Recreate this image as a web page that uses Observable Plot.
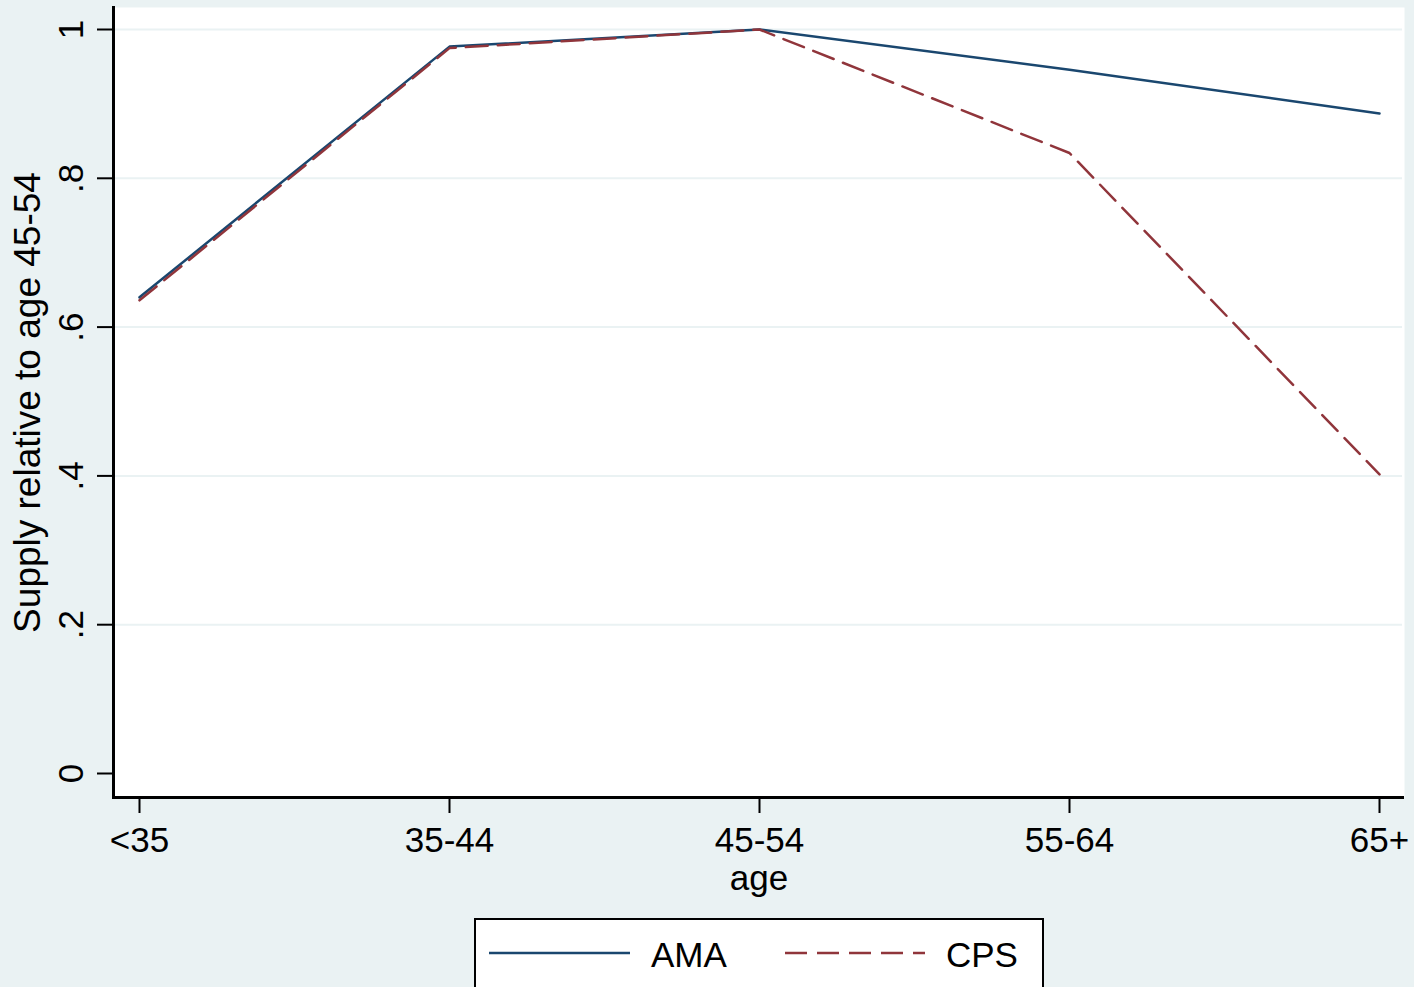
<!DOCTYPE html>
<html>
<head>
<meta charset="utf-8">
<script src="https://cdn.jsdelivr.net/npm/d3@7"></script>
<script src="https://cdn.jsdelivr.net/npm/@observablehq/plot@0.6"></script>
<style>
  html, body { margin: 0; padding: 0; background: #EAF2F3; width: 1414px; height: 987px; overflow: hidden; font-family: "Liberation Sans", Arial, sans-serif; }
  #chart svg { display: block; }
  #legend { position: absolute; left: 474px; top: 918px; width: 570px; height: 100px; border: 2px solid #000; background: #fff; box-sizing: border-box; }
  #legend svg { display: block; }
</style>
</head>
<body>
<div id="chart"></div>
<div id="legend"></div>
<script>
const ageGroups = ["<35", "35-44", "45-54", "55-64", "65+"];
const amaValues = [0.640, 0.977, 1.000, 0.946, 0.887];
const cpsValues = [0.636, 0.975, 1.000, 0.834, 0.402];
const yTicks = [0, 0.2, 0.4, 0.6, 0.8, 1];
const yTickLabels = ["0", ".2", ".4", ".6", ".8", "1"];
const seriesNames = ["AMA", "CPS"];
const seriesColors = ["#1a476f", "#90353b"];

const ama = ageGroups.map((a, i) => ({age: a, value: amaValues[i]}));
const cps = ageGroups.map((a, i) => ({age: a, value: cpsValues[i]}));
const yt = yTicks.map((v, i) => ({v, label: yTickLabels[i]}));

const font = "Liberation Sans, Arial, sans-serif";

const plot = Plot.plot({
  width: 1414,
  height: 918,
  marginLeft: 113,
  marginRight: 10,
  marginTop: 7,
  marginBottom: 121,
  style: {background: "#EAF2F3", fontFamily: font},
  x: {type: "point", domain: ageGroups, padding: 0.078, axis: null},
  y: {domain: [-24/744, 1 + 22/744], axis: null},
  marks: [
    Plot.frame({fill: "white", stroke: null}),
    Plot.ruleY(yTicks.filter(v => v > 0), {stroke: "#EAF2F3", strokeWidth: 2, insetRight: 2}),
    Plot.axisY({ticks: yTicks, tickSize: 16, tickFormat: () => "", label: null, stroke: "#000", strokeWidth: 2}),
    Plot.axisX({tickSize: 16, tickFormat: () => "", label: null, stroke: "#000", strokeWidth: 2}),
    Plot.frame({anchor: "left", stroke: "#000", strokeWidth: 3}),
    Plot.frame({anchor: "bottom", stroke: "#000", strokeWidth: 3, insetRight: 2}),
    Plot.text(yt, {y: "v", text: "label", frameAnchor: "left", dx: -42, rotate: -90, fontSize: 35, fill: "#000", lineAnchor: "middle", textAnchor: "middle"}),
    Plot.text(ageGroups, {x: d => d, text: d => d, frameAnchor: "bottom", dy: 43, fontSize: 35, fill: "#000", lineAnchor: "middle", textAnchor: "middle"}),
    Plot.text(["age"], {text: d => d, frameAnchor: "bottom", dy: 81, fontSize: 35, fill: "#000", lineAnchor: "middle", textAnchor: "middle"}),
    Plot.text(["Supply relative to age 45-54"], {text: d => d, frameAnchor: "left", dx: -85, rotate: -90, fontSize: 37, fill: "#000", lineAnchor: "middle", textAnchor: "middle"}),
    Plot.line(ama, {x: "age", y: "value", stroke: seriesColors[0], strokeWidth: 2.5}),
    Plot.line(cps, {x: "age", y: "value", stroke: seriesColors[1], strokeWidth: 2.5, strokeDasharray: "22,10"})
  ]
});
document.getElementById("chart").appendChild(plot);

// Legend
const lg = d3.select("#legend").append("svg").attr("width", 566).attr("height", 96)
  .style("font-family", font);
const items = [
  {name: seriesNames[0], color: seriesColors[0], dash: null, x0: 13, x1: 154, tx: 175},
  {name: seriesNames[1], color: seriesColors[1], dash: "22,10", x0: 309, x1: 449, tx: 470}
];
items.forEach(it => {
  lg.append("line").attr("x1", it.x0).attr("x2", it.x1).attr("y1", 33).attr("y2", 33)
    .attr("stroke", it.color).attr("stroke-width", 2.5).attr("stroke-dasharray", it.dash);
  lg.append("text").attr("x", it.tx).attr("y", 35).attr("dy", "0.35em")
    .attr("font-size", 35).attr("fill", "#000").text(it.name);
});
</script>
</body>
</html>
